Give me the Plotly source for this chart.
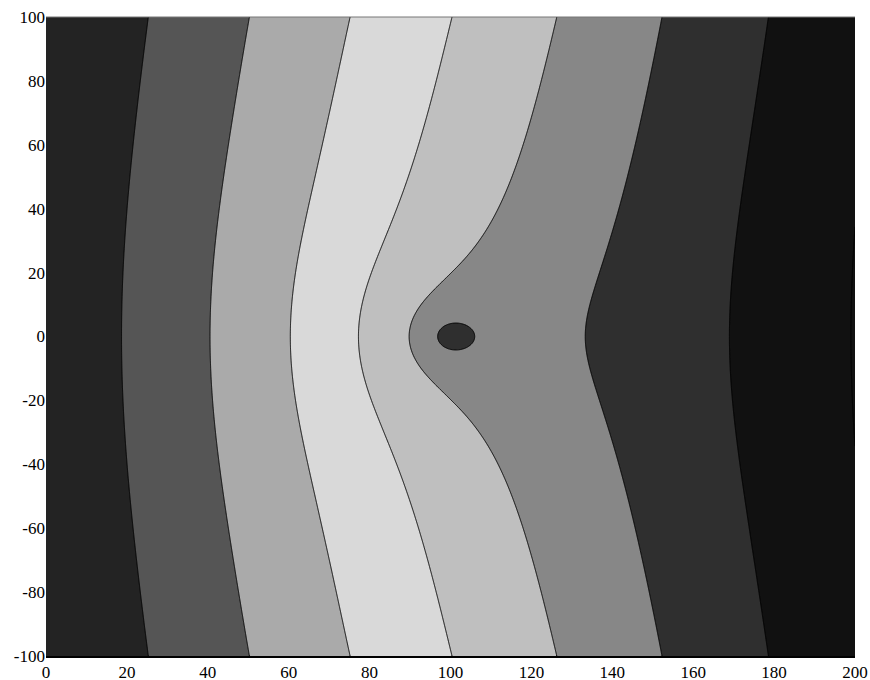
import numpy as np
import plotly.graph_objects as go

# ---- data ----
levels_start, levels_end, levels_step = 0, 200, 25
band_colors = ["#232323", "#555555", "#aaaaaa", "#d9d9d9", "#bfbfbf",
               "#878787", "#2f2f2f", "#111111", "#111111"]
# where each level crosses the top / bottom edge (y = +-100)
edge_x = [0.0, 25.3, 50.3, 75.2, 100.4, 126.3, 152.3, 178.6, 200.0]
edge_levels = [0.3, 25, 50, 75, 100, 125, 150, 175, 195.3]
# point source (peak) inside the channel
src_x, src_y = 100.0, 0.0
src_strength = 6.0
drift = 0.0009
near_boost, near_len = 10.0, 17.0
core_boost, core_width, core_eps = 2.5, 6.0, 1.2
half_width = 100.0
x_ticks = list(range(0, 201, 20))
y_ticks = list(range(-100, 101, 20))
x_tick_text = [str(v) for v in x_ticks]
y_tick_text = [str(v) for v in y_ticks]   # plain hyphen minus, as in the reference

# ---- field ----
x = np.linspace(0, 200, 401)
y = np.linspace(-100, 100, 401)
X, Y = np.meshgrid(x, y)
a = np.pi / (2 * half_width)
dx = X - src_x
dy = Y - src_y
r = np.sqrt(dx ** 2 + dy ** 2)
ch = np.cosh(a * dx)
cs = np.cos(a * dy)
reg = (a * core_eps) ** 2 / 2
base = np.interp(X, edge_x, edge_levels)
Z = (base
     + src_strength * np.exp(drift * dx) * np.log((ch + cs) / (ch - cs + reg))
     + near_boost * np.exp(-r / near_len)
     + core_boost * np.exp(-(r / core_width) ** 2))

# ---- stepped colour scale ----
nb = len(band_colors)
colorscale = [[0.0, band_colors[0]]]
for j in range(1, nb):
    b = (j + 0.25) / nb
    colorscale.append([b, band_colors[j - 1]])
    colorscale.append([b, band_colors[j]])
colorscale.append([1.0, band_colors[-1]])

fig = go.Figure(go.Contour(
    x=x, y=y, z=Z,
    autocontour=False,
    contours=dict(start=levels_start, end=levels_end, size=levels_step,
                  coloring="fill", showlines=True),
    line=dict(color="black", width=1, smoothing=0),
    colorscale=colorscale,
    showscale=False,
    hoverinfo="skip",
))

font = dict(family="Liberation Serif, Times New Roman, serif", size=17, color="black")
fig.update_layout(
    width=870, height=680,
    margin=dict(l=46, r=15, t=17, b=24, autoexpand=False),
    paper_bgcolor="white", plot_bgcolor="white",
    font=font,
    xaxis=dict(range=[0, 200], tickvals=x_ticks, ticktext=x_tick_text,
               showgrid=False, zeroline=False, automargin=False,
               ticklabeloverflow="allow",
               ticks="", showline=True, linecolor="black", linewidth=2),
    yaxis=dict(range=[-100, 100], tickvals=y_ticks, ticktext=y_tick_text,
               showgrid=False, zeroline=False, automargin=False,
               ticklabeloverflow="allow",
               ticks="", showline=False),
    shapes=[dict(type="line", xref="paper", yref="paper", x0=0, x1=1, y0=1, y1=1,
                 line=dict(color="#777777", width=1))],
)
fig.write_html(
    "out.html",
    config={"displayModeBar": False},
    post_script="document.body.style.margin='0';document.body.style.overflow='hidden';",
)
